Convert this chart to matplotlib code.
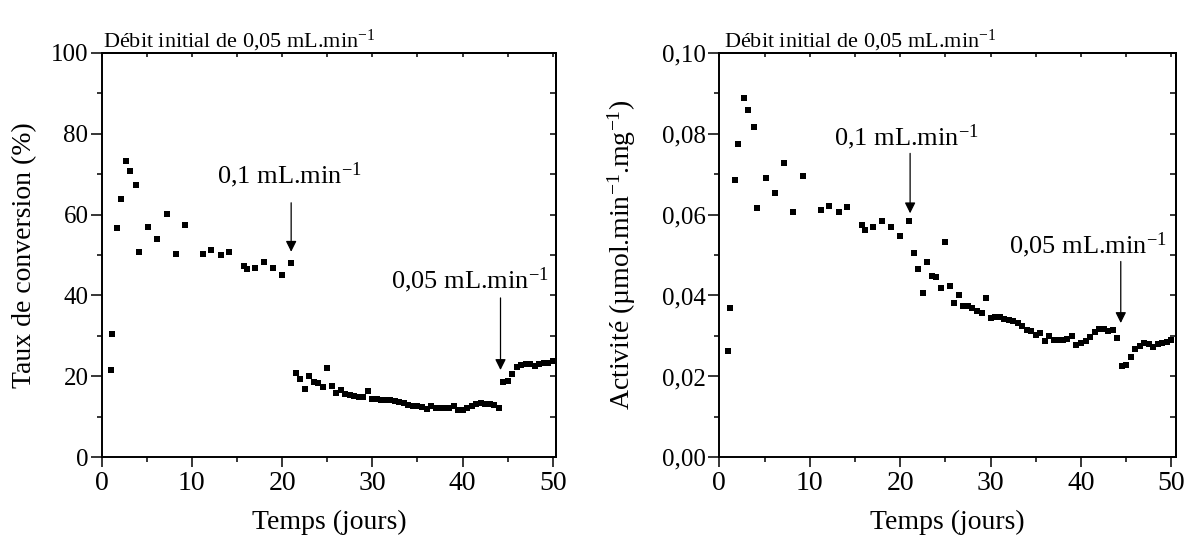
import matplotlib.pyplot as plt
from matplotlib.ticker import MultipleLocator, FixedLocator, FixedFormatter

# --- police type Times ---
plt.rcParams['font.family'] = 'Liberation Serif'
plt.rcParams['mathtext.fontset'] = 'custom'
plt.rcParams['mathtext.rm'] = 'Liberation Serif'
plt.rcParams['mathtext.it'] = 'Liberation Serif:italic'
plt.rcParams['mathtext.bf'] = 'Liberation Serif:bold'

# --- données ---
temps = [1.0, 1.15, 1.75, 2.1, 2.75, 3.15, 3.8, 4.15, 5.15, 6.15, 7.2, 8.2,
         9.2, 11.25, 12.1, 13.2, 14.15, 15.8, 16.1, 17.0, 18.0, 19.0, 20.0, 21.0,
         21.5, 22.0, 22.5, 23.0, 23.5, 24.0, 24.5, 25.0, 25.5, 26.0, 26.5, 27.0,
         27.5, 28.0, 28.5, 29.0, 29.5, 30.0, 30.5, 31.0, 31.5, 32.0, 32.5, 33.0,
         33.5, 34.0, 34.5, 35.0, 35.5, 36.0, 36.5, 37.0, 37.5, 38.0, 38.5, 39.0,
         39.5, 40.0, 40.5, 41.0, 41.5, 42.0, 42.5, 43.0, 43.5, 44.0, 44.5, 45.0,
         45.5, 46.0, 46.5, 47.0, 47.5, 48.0, 48.5, 49.0, 49.5, 50.0]

conversion = [21.6, 30.4, 56.6, 63.8, 73.3, 70.7, 67.4, 50.8, 56.8, 53.9, 60.1, 50.2,
              57.3, 50.3, 51.2, 50.0, 50.8, 47.4, 46.5, 46.9, 48.2, 46.8, 45.0, 48.1,
              20.9, 19.3, 16.8, 20.1, 18.6, 18.5, 17.3, 22.0, 17.7, 16.0, 16.7, 15.6,
              15.4, 15.3, 14.9, 14.9, 16.4, 14.5, 14.5, 14.3, 14.2, 14.1, 14.0, 13.7,
              13.5, 13.0, 12.7, 12.7, 12.4, 11.9, 12.6, 12.1, 12.1, 12.1, 12.2, 12.6,
              11.7, 11.8, 12.1, 12.7, 13.1, 13.4, 13.3, 13.2, 13.0, 12.3, 18.7, 18.9,
              20.6, 22.4, 22.9, 23.1, 23.1, 22.6, 23.0, 23.3, 23.4, 23.8]

activite = [0.0262, 0.0370, 0.0686, 0.0774, 0.0889, 0.0858, 0.0816, 0.0617, 0.0689,
            0.0653, 0.0727, 0.0607, 0.0696, 0.0611, 0.0620, 0.0606, 0.0619, 0.0573,
            0.0563, 0.0568, 0.0585, 0.0568, 0.0547, 0.0583,
            0.0506, 0.0466, 0.0405, 0.0483, 0.0449, 0.0446, 0.0419, 0.0533, 0.0423,
            0.0382, 0.0400, 0.0375, 0.0373, 0.0369, 0.0362, 0.0358, 0.0395, 0.0345,
            0.0346, 0.0348, 0.0342, 0.0340, 0.0338, 0.0331, 0.0325, 0.0314, 0.0312,
            0.0303, 0.0308, 0.0287, 0.0301, 0.0290, 0.0290, 0.0289, 0.0293, 0.0299,
            0.0278, 0.0282, 0.0288, 0.0297, 0.0310, 0.0317, 0.0317, 0.0313, 0.0315,
            0.0296, 0.0226, 0.0228, 0.0248, 0.0268, 0.0275, 0.0282, 0.0281, 0.0274,
            0.0280, 0.0282, 0.0286, 0.0289]

x_ticks = [0, 10, 20, 30, 40, 50]
x_ticklabels = ['0', '10', '20', '30', '40', '50']
conv_ticks = [0, 20, 40, 60, 80, 100]
conv_ticklabels = ['0', '20', '40', '60', '80', '100']
act_ticks = [0.0, 0.02, 0.04, 0.06, 0.08, 0.10]
act_ticklabels = ['0,00', '0,02', '0,04', '0,06', '0,08', '0,10']

TITRE = r'Débit initial de 0,05 mL.min$^{-1}$'


def style_axes(ax, yticks, yticklabels, ymin_step, ylim, xlim_max):
    ax.set_xlim(0, xlim_max)
    ax.set_ylim(*ylim)
    ax.xaxis.set_major_locator(FixedLocator(x_ticks))
    ax.xaxis.set_major_formatter(FixedFormatter(x_ticklabels))
    ax.xaxis.set_minor_locator(MultipleLocator(5))
    ax.yaxis.set_major_locator(FixedLocator(yticks))
    ax.yaxis.set_major_formatter(FixedFormatter(yticklabels))
    ax.yaxis.set_minor_locator(MultipleLocator(ymin_step))
    for sp in ax.spines.values():
        sp.set_linewidth(1.4)
    ax.tick_params(axis='x', which='major', direction='out', length=7, width=1.1,
                   labelsize=20, pad=3)
    ax.tick_params(axis='x', which='minor', direction='out', length=3.5, width=1.1)
    ax.tick_params(axis='y', which='major', direction='out', length=8, width=1.1,
                   labelsize=18, pad=1.5)
    ax.tick_params(axis='y', which='minor', direction='out', length=3.5, width=1.1)

    # ticks miroirs vers l'intérieur (haut et droite)
    top = ax.secondary_xaxis('top')
    top.xaxis.set_major_locator(FixedLocator(x_ticks))
    top.xaxis.set_minor_locator(MultipleLocator(5))
    top.tick_params(which='both', direction='in', length=3, width=1.1, labeltop=False)
    right = ax.secondary_yaxis('right')
    right.yaxis.set_major_locator(FixedLocator(yticks))
    right.yaxis.set_minor_locator(MultipleLocator(ymin_step))
    right.tick_params(which='both', direction='in', length=4.5, width=1.1, labelright=False)
    for sec in (top, right):
        for sp in sec.spines.values():
            sp.set_linewidth(1.4)


fig = plt.figure(figsize=(11.89, 5.42), dpi=100)

# --- 1. Taux de conversion ---
ax1 = fig.add_axes([0.0855, 0.156, 0.3825, 0.747])
ax1.plot(temps, conversion, 's', color='black', ms=4.2, mew=0)
style_axes(ax1, conv_ticks, conv_ticklabels, 10, (0, 100), 50.4)
ax1.set_xlabel('Temps (jours)', fontsize=20)
ax1.xaxis.set_label_coords(0.5, -0.13)
ax1.set_ylabel('Taux de conversion (%)', fontsize=20)
ax1.yaxis.set_label_coords(-0.142, 0.5)
ax1.text(0.004, 1.012, TITRE, transform=ax1.transAxes, fontsize=16,
         ha='left', va='baseline')

fleche = dict(arrowstyle='-|>', color='black', lw=0.9, mutation_scale=16,
              shrinkA=0, shrinkB=0)
ax1.annotate('', xy=(21.0, 50.8), xytext=(21.0, 62.9), arrowprops=fleche)
ax1.text(20.8, 67.8, r'0,1 mL.min$^{-1}$', fontsize=19, ha='center', va='baseline')
ax1.annotate('', xy=(44.2, 21.6), xytext=(44.2, 39.4), arrowprops=fleche)
ax1.text(49.6, 41.8, r'0,05 mL.min$^{-1}$', fontsize=19, ha='right', va='baseline')

# --- 2. Activité ---
ax2 = fig.add_axes([0.605, 0.156, 0.384, 0.747])
ax2.plot(temps, activite, 's', color='black', ms=4.2, mew=0)
style_axes(ax2, act_ticks, act_ticklabels, 0.01, (0, 0.10), 50.5)
ax2.set_xlabel('Temps (jours)', fontsize=20)
ax2.xaxis.set_label_coords(0.5, -0.13)
ax2.set_ylabel(r'Activité (µmol.min$^{-1}$.mg$^{-1}$)', fontsize=20)
ax2.yaxis.set_label_coords(-0.1785, 0.5)
ax2.text(0.01, 1.012, TITRE, transform=ax2.transAxes, fontsize=16,
         ha='left', va='baseline')

ax2.annotate('', xy=(21.1, 0.0603), xytext=(21.1, 0.0751), arrowprops=fleche)
ax2.text(20.7, 0.0772, r'0,1 mL.min$^{-1}$', fontsize=19, ha='center', va='baseline')
ax2.annotate('', xy=(44.4, 0.0332), xytext=(44.4, 0.0484), arrowprops=fleche)
ax2.text(49.5, 0.0504, r'0,05 mL.min$^{-1}$', fontsize=19, ha='right', va='baseline')

plt.savefig('out.png', dpi=100)
